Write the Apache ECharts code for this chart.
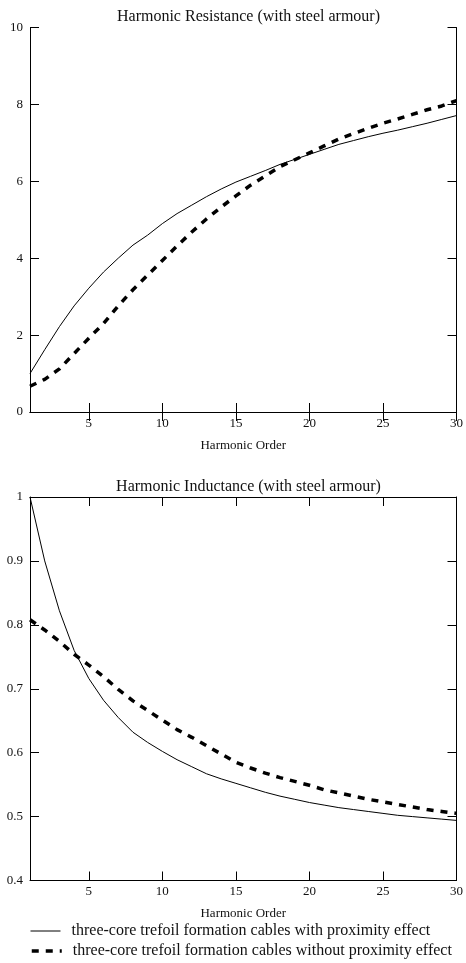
<!DOCTYPE html>
<html>
<head>
<meta charset="utf-8">
<script src="https://cdn.jsdelivr.net/npm/echarts@6/dist/echarts.min.js"></script>
<style>
html, body { margin: 0; padding: 0; background: #fff; }
#chart { width: 466px; height: 963px; }
</style>
</head>
<body>
<div id="chart"></div>
<script>
// harmonic orders 1..30
var harmonics = [1,2,3,4,5,6,7,8,9,10,11,12,13,14,15,16,17,18,19,20,21,22,23,24,25,26,27,28,29,30]
// resistance, with / without proximity effect
var resWith = [1.0,1.62,2.22,2.76,3.22,3.64,4.0,4.34,4.6,4.9,5.16,5.38,5.6,5.8,5.98,6.13,6.28,6.44,6.57,6.7,6.83,6.96,7.06,7.16,7.25,7.33,7.42,7.51,7.61,7.71]
var resWithout = [0.67,0.85,1.12,1.52,1.92,2.3,2.76,3.18,3.56,3.94,4.32,4.68,5.02,5.33,5.62,5.9,6.14,6.38,6.56,6.74,6.92,7.1,7.24,7.38,7.51,7.62,7.74,7.86,7.96,8.1]
// inductance, with / without proximity effect
var indWith = [1.0,0.9,0.822,0.76,0.716,0.682,0.655,0.632,0.616,0.602,0.589,0.578,0.567,0.559,0.552,0.545,0.538,0.532,0.527,0.522,0.518,0.514,0.511,0.508,0.505,0.502,0.5,0.498,0.496,0.494]
var indWithout = [0.808,0.792,0.774,0.754,0.737,0.719,0.699,0.681,0.666,0.651,0.636,0.624,0.611,0.598,0.585,0.576,0.568,0.561,0.555,0.549,0.542,0.537,0.532,0.527,0.523,0.519,0.515,0.511,0.508,0.505]
var xTicks = [5,10,15,20,25,30]
var seriesNames = ['three-core trefoil formation cables with proximity effect',
                   'three-core trefoil formation cables without proximity effect']

var font = 'Liberation Serif'

function pairs(ys) {
    return harmonics.map(function (h, i) { return [h, ys[i]] })
}

// one x axis (bottom or top) of a grid
function xAx(grid, pos) {
    var bottom = pos === 'bottom'
    return {
        type: 'value', gridIndex: grid, position: pos, min: 1, max: 30,
        name: bottom ? 'Harmonic Order' : '', nameLocation: 'middle', nameGap: 27,
        nameTextStyle: { fontFamily: font, fontSize: 13, color: '#111' },
        axisLine: { show: true, lineStyle: { color: '#000', width: 1 } },
        axisTick: { show: true, inside: true, length: 9, customValues: xTicks, lineStyle: { color: '#000' } },
        axisLabel: { show: bottom, customValues: xTicks, margin: 5, fontFamily: font, fontSize: 13, color: '#111' },
        splitLine: { show: false }
    }
}
// one y axis (left or right) of a grid
function yAx(grid, pos, min, max, step) {
    return {
        type: 'value', gridIndex: grid, position: pos, min: min, max: max, interval: step,
        axisLine: { show: true, onZero: false, lineStyle: { color: '#000', width: 1 } },
        axisTick: { show: true, inside: true, length: 9, lineStyle: { color: '#000' } },
        axisLabel: { show: pos === 'left', margin: 7, fontFamily: font, fontSize: 13, color: '#111' },
        splitLine: { show: false }
    }
}
// one legend row
function legendRow(i, top, style) {
    return {
        left: 30, top: top, padding: 0, itemWidth: 30, itemHeight: 10,
        textStyle: { fontFamily: font, fontSize: 16, color: '#111', padding: [0, 0, 0, 6] },
        data: [{ name: seriesNames[i], lineStyle: style, itemStyle: { opacity: 0 } }]
    }
}

var solidStyle = { color: '#000', width: 1, type: 'solid' }
var dashStyle = { color: '#000', width: 3.5, type: [7, 7] }

var chart = echarts.init(document.getElementById('chart'))
chart.setOption({
    animation: false,
    backgroundColor: '#fff',
    color: ['#000', '#000'],
    title: [
        { text: 'Harmonic Resistance (with steel armour)', left: 243.5, top: 4, textAlign: 'center',
          textStyle: { fontFamily: font, fontSize: 16, fontWeight: 'normal', color: '#111' } },
        { text: 'Harmonic Inductance (with steel armour)', left: 243.5, top: 474, textAlign: 'center',
          textStyle: { fontFamily: font, fontSize: 16, fontWeight: 'normal', color: '#111' } }
    ],
    grid: [
        { left: 30, top: 27.5, width: 427, height: 384.5 },
        { left: 30, top: 497, width: 427, height: 383.5 }
    ],
    xAxis: [xAx(0, 'bottom'), xAx(0, 'top'), xAx(1, 'bottom'), xAx(1, 'top')],
    yAxis: [yAx(0, 'left', 0, 10, 2), yAx(0, 'right', 0, 10, 2),
            yAx(1, 'left', 0.4, 1, 0.1), yAx(1, 'right', 0.4, 1, 0.1)],
    legend: [legendRow(0, 923, solidStyle), legendRow(1, 943, dashStyle)],
    series: [
        { name: seriesNames[0], type: 'line', xAxisIndex: 0, yAxisIndex: 0, symbol: 'none',
          lineStyle: solidStyle, data: pairs(resWith) },
        { name: seriesNames[1], type: 'line', xAxisIndex: 0, yAxisIndex: 0, symbol: 'none',
          lineStyle: dashStyle, data: pairs(resWithout) },
        { name: seriesNames[0], type: 'line', xAxisIndex: 2, yAxisIndex: 2, symbol: 'none',
          lineStyle: solidStyle, data: pairs(indWith) },
        { name: seriesNames[1], type: 'line', xAxisIndex: 2, yAxisIndex: 2, symbol: 'none',
          lineStyle: dashStyle, data: pairs(indWithout) }
    ]
})
</script>
</body>
</html>
